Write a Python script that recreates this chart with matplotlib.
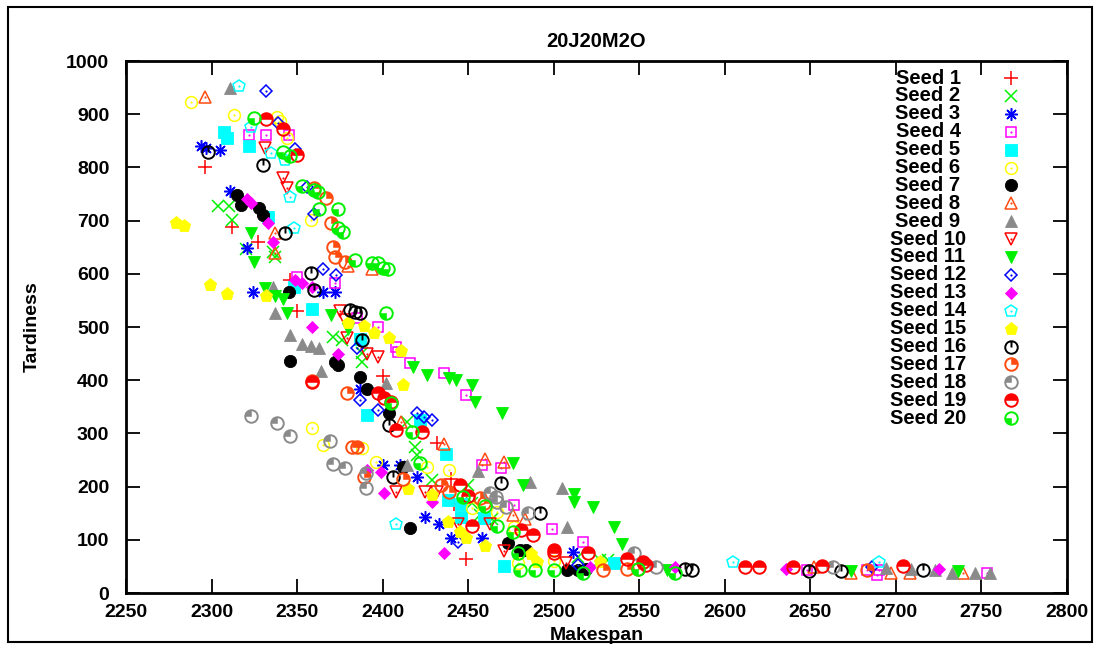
import matplotlib
matplotlib.use("Agg")
import matplotlib.pyplot as plt
from matplotlib.path import Path
from matplotlib.patches import Rectangle

plt.rcParams['font.family'] = ['Liberation Sans', 'DejaVu Sans']
plt.rcParams['font.weight'] = 'bold'

# ---- data: (makespan, tardiness) per seed ----
s1_x = [2296, 2312, 2327, 2346, 2350, 2400, 2432, 2440, 2442, 2449]
s1_y = [800, 688, 660, 588, 530, 408, 282, 214, 168, 64]
s2_x = [2304, 2310, 2312, 2320, 2336, 2337, 2371, 2376, 2388, 2388, 2414, 2419, 2420,
        2429, 2450, 2452, 2457, 2464, 2514, 2527, 2532]
s2_y = [728, 728, 701, 647, 641, 632, 481, 475, 451, 434, 321, 274, 260,
        212, 203, 169, 147, 139, 68, 62, 62]
s3_x = [2294, 2297, 2305, 2311, 2321, 2324, 2365, 2372, 2387, 2400, 2410, 2420, 2425,
        2433, 2440, 2458, 2511]
s3_y = [840, 836, 832, 756, 649, 566, 566, 566, 383, 241, 241, 218, 143,
        130, 103, 103, 77]
s4_x = [2322, 2332, 2345, 2350, 2372, 2385, 2397, 2408, 2409, 2416, 2436, 2449, 2458,
        2469, 2477, 2499, 2517, 2648, 2683, 2689, 2690, 2753]
s4_y = [861, 861, 861, 594, 583, 517, 500, 462, 453, 432, 414, 372, 241,
        235, 165, 120, 96, 43, 43, 34, 43, 37]
s5_x = [2307, 2309, 2322, 2333, 2348, 2359, 2387, 2391, 2422, 2437, 2438, 2446, 2446,
        2459, 2471, 2535]
s5_y = [867, 855, 841, 707, 575, 534, 478, 335, 325, 261, 175, 167, 143,
        141, 51, 56]
s6_x = [2288, 2313, 2338, 2340, 2344, 2358, 2359, 2365, 2388, 2396, 2426, 2439, 2452,
        2467, 2477, 2479, 2500]
s6_y = [923, 899, 895, 888, 855, 701, 310, 278, 273, 246, 237, 231, 160,
        152, 124, 56, 60]
s7_x = [2315, 2317, 2328, 2330, 2345, 2346, 2372, 2374, 2387, 2391, 2404, 2412, 2416,
        2473, 2480, 2484, 2508, 2514, 2519]
s7_y = [748, 730, 724, 711, 566, 436, 434, 428, 406, 383, 338, 237, 122,
        94, 81, 81, 43, 43, 45]
s8_x = [2296, 2337, 2337, 2380, 2394, 2411, 2436, 2460, 2471, 2476, 2483, 2652, 2674,
        2697, 2708, 2739]
s8_y = [932, 677, 639, 615, 609, 321, 280, 252, 246, 147, 139, 49, 37,
        37, 37, 37]
s9_x = [2311, 2336, 2337, 2346, 2353, 2358, 2363, 2364, 2402, 2414, 2456, 2486, 2505,
        2508, 2694, 2709, 2723, 2733, 2746, 2755]
s9_y = [949, 575, 526, 485, 468, 464, 461, 417, 395, 241, 229, 209, 197,
        124, 47, 45, 43, 37, 37, 37]
s10_x = [2331, 2342, 2344, 2375, 2378, 2379, 2391, 2397, 2408, 2425, 2432, 2444, 2463,
         2471, 2507]
s10_y = [837, 780, 761, 530, 513, 479, 449, 443, 190, 190, 190, 130, 130,
         79, 56]
s11_x = [2323, 2325, 2331, 2337, 2342, 2344, 2370, 2380, 2418, 2426, 2439, 2443, 2452,
         2454, 2470, 2476, 2482, 2512, 2512, 2523, 2535, 2540, 2566, 2674, 2736]
s11_y = [677, 622, 573, 558, 552, 526, 522, 496, 425, 410, 404, 400, 391,
         359, 338, 244, 203, 186, 171, 162, 124, 92, 43, 41, 41]
s12_x = [2332, 2339, 2349, 2356, 2360, 2365, 2373, 2385, 2387, 2397, 2420, 2424, 2429,
         2444, 2514, 2686]
s12_y = [944, 883, 835, 763, 713, 609, 598, 461, 363, 344, 338, 331, 325,
         96, 53, 49]
s13_x = [2321, 2323, 2333, 2336, 2349, 2353, 2359, 2359, 2374, 2391, 2399, 2401, 2429,
         2436, 2521, 2571, 2636, 2725]
s13_y = [741, 733, 696, 660, 588, 583, 575, 500, 449, 231, 227, 188, 171,
         75, 49, 49, 45, 45]
s14_x = [2316, 2323, 2335, 2343, 2346, 2348, 2408, 2605, 2690]
s14_y = [953, 876, 827, 814, 744, 686, 130, 58, 58]
s15_x = [2279, 2284, 2299, 2309, 2332, 2380, 2389, 2395, 2404, 2411, 2412, 2415, 2429,
         2438, 2445, 2449, 2460, 2487, 2490, 2527]
s15_y = [696, 690, 579, 562, 558, 508, 502, 489, 479, 455, 391, 195, 184,
         134, 115, 103, 88, 73, 58, 58]
s16_x = [2298, 2330, 2343, 2358, 2360, 2381, 2384, 2387, 2388, 2404, 2406, 2469, 2492,
         2577, 2581, 2649, 2668, 2716]
s16_y = [829, 805, 677, 602, 570, 532, 529, 526, 475, 316, 218, 207, 150,
         45, 43, 41, 41, 43]
s17_x = [2360, 2367, 2370, 2371, 2372, 2378, 2379, 2359, 2382, 2385, 2389, 2412, 2434,
         2439, 2457, 2459, 2529, 2543, 2549, 2683]
s17_y = [761, 743, 696, 651, 632, 622, 376, 399, 274, 274, 218, 214, 203,
         190, 179, 169, 43, 45, 45, 43]
s18_x = [2323, 2338, 2346, 2369, 2371, 2378, 2390, 2390, 2463, 2466, 2467, 2472, 2485,
         2547, 2560, 2663]
s18_y = [333, 320, 296, 286, 243, 235, 226, 197, 188, 180, 171, 162, 150,
         75, 49, 49]
s19_x = [2332, 2342, 2350, 2359, 2397, 2401, 2405, 2408, 2423, 2445, 2450, 2452, 2481,
         2488, 2500, 2500, 2520, 2543, 2552, 2554, 2612, 2620, 2640, 2657, 2704]
s19_y = [891, 872, 823, 397, 376, 366, 359, 306, 303, 203, 182, 126, 118,
         109, 81, 75, 75, 64, 58, 52, 49, 49, 49, 51, 51]
s20_x = [2325, 2342, 2346, 2353, 2360, 2362, 2363, 2374, 2374, 2377, 2384, 2394, 2397,
         2400, 2403, 2402, 2405, 2417, 2422, 2447, 2460, 2467, 2476, 2479, 2480, 2489,
         2500, 2517, 2549, 2571]
s20_y = [893, 829, 821, 765, 757, 754, 722, 722, 686, 679, 626, 620, 620,
         611, 609, 526, 357, 303, 244, 180, 163, 126, 115, 75, 43, 43,
         43, 37, 45, 37]

seed_labels = ["Seed %d" % i for i in range(1, 21)]
xs = [s1_x, s2_x, s3_x, s4_x, s5_x, s6_x, s7_x, s8_x, s9_x, s10_x,
      s11_x, s12_x, s13_x, s14_x, s15_x, s16_x, s17_x, s18_x, s19_x, s20_x]
ys = [s1_y, s2_y, s3_y, s4_y, s5_y, s6_y, s7_y, s8_y, s9_y, s10_y,
      s11_y, s12_y, s13_y, s14_y, s15_y, s16_y, s17_y, s18_y, s19_y, s20_y]

RED, GRN, BLU, MAG, CYN, YEL = '#ff0000', '#00f000', '#0000ff', '#ff00ff', '#00ffff', '#ffff00'
ORG, GRY, BLK = '#ff4b10', '#8a8a8a', '#000000'
colors = [RED, GRN, BLU, MAG, CYN, YEL, BLK, ORG, GRY, RED,
          GRN, BLU, MAG, CYN, YEL, BLK, ORG, GRY, RED, GRN]

# point-type shapes
circle = Path.unit_circle()
tick_circle = Path.make_compound_path(
    circle, Path([(0, 0), (0, 1)], [Path.MOVETO, Path.LINETO]))
wedges = {17: Path.wedge(0, 90), 18: Path.wedge(90, 180),
          19: Path.wedge(0, 180), 20: Path.wedge(180, 270)}

# (marker, size, filled, centre dot)
styles = {
    1: ('+', 9.5, False, False), 2: ('x', 8, False, False), 3: ((8, 2, 0), 9, False, False),
    4: ('s', 7.8, False, True), 5: ('s', 8.2, True, False),
    6: ('o', 8.5, False, True), 7: ('o', 8.8, True, False),
    8: ('^', 8.5, False, True), 9: ('^', 8.8, True, False),
    10: ('v', 8.5, False, True), 11: ('v', 8.8, True, False),
    12: ('D', 5.8, False, True), 13: ('D', 6.2, True, False),
    14: ('p', 9, False, True), 15: ('p', 9.5, True, False),
}


def draw_seed(x, y, n, **kw):
    c = colors[n - 1]
    if n <= 15:
        m, ms, filled, dot = styles[n]
        if filled:
            ax.plot(x, y, ls='none', marker=m, ms=ms, mfc=c, mec=c, mew=0.6, **kw)
        else:
            ax.plot(x, y, ls='none', marker=m, ms=ms, mfc='none', mec=c, mew=1.1, **kw)
            if dot:
                ax.plot(x, y, ls='none', marker='o', ms=1.3, mfc=c, mec=c, mew=0.2, **kw)
    elif n == 16:
        ax.plot(x, y, ls='none', marker=tick_circle, ms=9.0, mfc='none', mec=c, mew=1.4, **kw)
    else:
        ax.plot(x, y, ls='none', marker=wedges[n], ms=9.0, mfc=c, mec=c, mew=0.4, **kw)
        ax.plot(x, y, ls='none', marker=circle, ms=9.0, mfc='none', mec=c, mew=1.4, **kw)


W, H = 1100, 648
fig = plt.figure(figsize=(W / 100, H / 100), dpi=100)
ax = fig.add_axes([126 / W, 1 - 593 / H, 941 / W, 532 / H])

for n in range(1, 21):
    draw_seed(xs[n - 1], ys[n - 1], n, clip_on=False)

ax.set_xlim(2250, 2800)
ax.set_ylim(0, 1000)
ax.set_xticks(range(2250, 2801, 50))
ax.set_yticks(range(0, 1001, 100))
ax.tick_params(direction='in', length=10, width=1.3, top=True, right=True,
               labelsize=14, pad=8, colors='black')
ax.tick_params(axis='y', pad=12)
for sp in ax.spines.values():
    sp.set_linewidth(2)

ax.set_title("20J20M2O", fontsize=14.5, fontweight='bold', pad=10)
ax.set_xlabel("Makespan", fontsize=14, fontweight='bold', labelpad=4)
ax.set_ylabel("Tardiness", fontsize=14, fontweight='bold', labelpad=18)

# key, drawn at the right of the plot area
for i, lab in enumerate(seed_labels):
    ypx = 78 + i * 17.9
    fy = 1 - ypx / H
    fig.text(928 / W, fy, lab, ha='center', va='center', fontsize=14.5)
    draw_seed([1011 / W], [fy], i + 1, transform=fig.transFigure, clip_on=False)

fig.patches.append(Rectangle((8 / W, 1 - 642 / H), 1084 / W, 635 / H,
                             transform=fig.transFigure, fill=False, lw=1.5, ec='black'))

fig.savefig("out.png", dpi=100)
